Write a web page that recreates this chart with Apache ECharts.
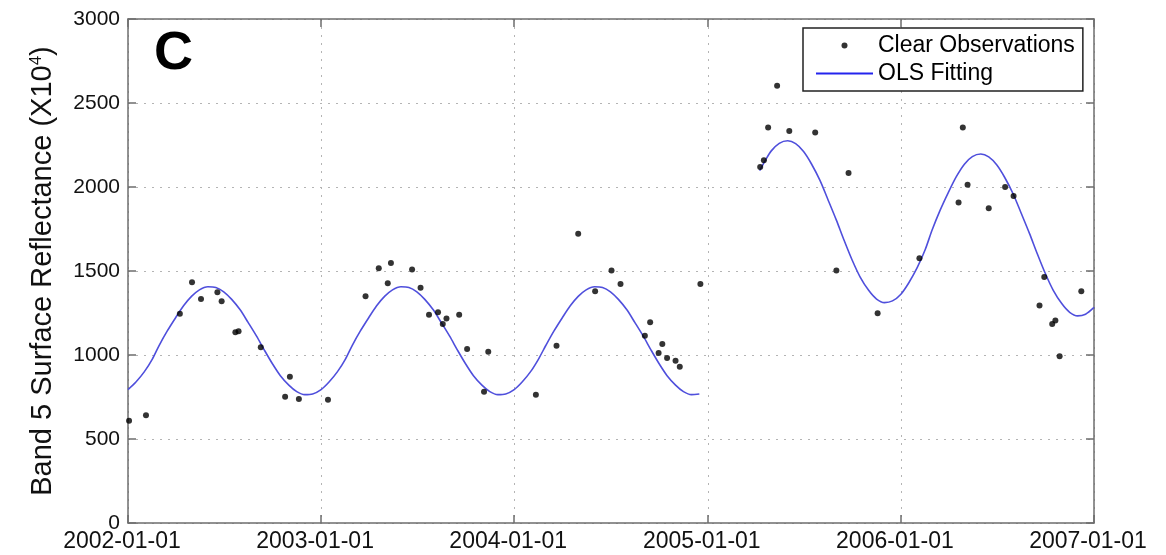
<!DOCTYPE html>
<html>
<head>
<meta charset="utf-8">
<script src="https://cdn.jsdelivr.net/npm/echarts@6/dist/echarts.min.js"></script>
<style>html,body{margin:0;padding:0;background:#fff}#c{width:1166px;height:555px}</style>
</head>
<body>
<div id="c"></div>
<script>
// ---- data ----
var xTickLabels = ['2002-01-01','2003-01-01','2004-01-01','2005-01-01','2006-01-01','2007-01-01'];
var yTicks = [0, 500, 1000, 1500, 2000, 2500, 3000];

var obsDates = [
  '2002-01-03','2002-02-04','2002-04-09','2002-05-02','2002-05-19','2002-06-19','2002-06-27','2002-07-23','2002-07-29','2002-09-09',
  '2002-10-25','2002-11-03','2002-11-20','2003-01-14','2003-03-26','2003-04-20','2003-05-07','2003-05-13','2003-06-22','2003-07-08',
  '2003-07-24','2003-08-10','2003-08-19','2003-08-26','2003-09-19','2003-10-04','2003-11-05','2003-11-13','2004-02-11','2004-03-21',
  '2004-05-01','2004-06-02','2004-07-03','2004-07-20','2004-09-04','2004-09-14','2004-09-30','2004-10-07','2004-10-16','2004-11-01',
  '2004-11-09','2004-12-18','2005-04-10','2005-04-17','2005-04-25','2005-05-12','2005-06-04','2005-07-23','2005-09-01','2005-09-24',
  '2005-11-18','2006-02-05','2006-04-20','2006-04-28','2006-05-07','2006-06-16','2006-07-17','2006-08-02','2006-09-20','2006-09-29',
  '2006-10-14','2006-10-20','2006-10-28','2006-12-08'
];
var obsValues = [
  608, 642, 1245, 1433, 1334, 1374, 1320, 1135, 1141, 1046,
  751, 871, 738, 734, 1350, 1517, 1427, 1547, 1509, 1400,
  1240, 1254, 1185, 1218, 1239, 1036, 781, 1020, 763, 1055,
  1722, 1379, 1503, 1423, 1115, 1195, 1012, 1066, 982, 966,
  930, 1423, 2119, 2159, 2354, 2602, 2334, 2324, 1503, 2083,
  1248, 1576, 1907, 2354, 2014, 1874, 2000, 1946, 1294, 1465,
  1185, 1205, 992, 1379
];

var fitDates = [
  '2002-01-01','2002-01-16','2002-02-01','2002-02-16','2002-03-01','2002-03-16','2002-04-01','2002-04-16','2002-05-01','2002-05-16','2002-06-01','2002-06-16',
  '2002-07-01','2002-07-16','2002-08-01','2002-08-16','2002-09-01','2002-09-16','2002-10-01','2002-10-16','2002-11-01','2002-11-16','2002-12-01','2002-12-16',
  '2003-01-01','2003-01-16','2003-02-01','2003-02-16','2003-03-01','2003-03-16','2003-04-01','2003-04-16','2003-05-01','2003-05-16','2003-06-01','2003-06-16',
  '2003-07-01','2003-07-16','2003-08-01','2003-08-16','2003-09-01','2003-09-16','2003-10-01','2003-10-16','2003-11-01','2003-11-16','2003-12-01','2003-12-16',
  '2004-01-01','2004-01-16','2004-02-01','2004-02-16','2004-03-01','2004-03-16','2004-04-01','2004-04-16','2004-05-01','2004-05-16','2004-06-01','2004-06-16',
  '2004-07-01','2004-07-16','2004-08-01','2004-08-16','2004-09-01','2004-09-16','2004-10-01','2004-10-16','2004-11-01','2004-11-16','2004-12-01','2004-12-16',
  '2005-02-01',
  '2005-04-09','2005-04-20','2005-05-01','2005-05-16','2005-06-01','2005-06-16',
  '2005-07-01','2005-07-16','2005-08-01','2005-08-16','2005-09-01','2005-09-16','2005-10-01','2005-10-16','2005-11-01','2005-11-16','2005-12-01','2005-12-16',
  '2006-01-01','2006-01-16','2006-02-01','2006-02-16','2006-03-01','2006-03-16','2006-04-01','2006-04-16','2006-05-01','2006-05-16','2006-06-01','2006-06-16',
  '2006-07-01','2006-07-16','2006-08-01','2006-08-16','2006-09-01','2006-09-16','2006-10-01','2006-10-16','2006-11-01','2006-11-16','2006-12-01','2006-12-16',
  '2007-01-01'
];
var fitValues = [
  794, 839, 901, 976, 1058, 1142, 1222, 1293, 1349, 1388, 1406, 1402,
  1376, 1331, 1269, 1194, 1112, 1028, 948, 877, 821, 782, 764, 768,
  794, 839, 901, 976, 1058, 1142, 1222, 1293, 1349, 1388, 1406, 1402,
  1376, 1331, 1269, 1194, 1112, 1028, 948, 877, 821, 782, 764, 768,
  794, 839, 901, 976, 1058, 1142, 1222, 1293, 1349, 1388, 1406, 1402,
  1376, 1331, 1269, 1194, 1112, 1028, 948, 877, 821, 782, 764, 768,
  null,
  2097, 2160, 2215, 2260, 2275, 2258,
  2211, 2137, 2039, 1926, 1803, 1680, 1564, 1464, 1385, 1333, 1312, 1322,
  1362, 1430, 1521, 1628, 1744, 1861, 1970, 2063, 2136, 2181, 2196, 2179,
  2132, 2058, 1960, 1847, 1724, 1601, 1485, 1385, 1306, 1254, 1233, 1243,
  1283
];

var panelLetter = 'C';
var yName = 'Band 5 Surface Reflectance (X10';
var ySup = '4';

// ---- chart ----
var FONT = '"Liberation Sans", Arial, Helvetica, sans-serif';
var chart = echarts.init(document.getElementById('c'), null, {renderer: 'canvas'});

var obsData = obsDates.map(function (d, i) { return [d, obsValues[i]]; });
var fitData = fitDates.map(function (d, i) { return [d, fitValues[i] === null ? '-' : fitValues[i]]; });

var frameColor = '#6e6e6e';
var gridLine = {show: true, lineStyle: {color: '#b4b4b4', width: 1, type: [2, 6]}};

chart.setOption({
  animation: false,
  backgroundColor: '#fff',
  textStyle: {fontFamily: FONT},
  title: {
    text: panelLetter, left: 154, top: 27, padding: 0,
    textStyle: {fontSize: 54, fontWeight: 'bold', color: '#000', fontFamily: FONT}
  },
  legend: {
    left: 803, top: 28, orient: 'vertical',
    padding: [6, 8, 6, 12], itemGap: 5,
    itemWidth: 57, itemHeight: 6,
    borderColor: '#222', borderWidth: 1.5, backgroundColor: '#fff',
    textStyle: {fontSize: 23, color: '#000', fontFamily: FONT, width: 200},
    data: [
      {name: 'Clear Observations', icon: 'circle', itemStyle: {color: '#000'}},
      {name: 'OLS Fitting', itemStyle: {opacity: 0}, lineStyle: {color: '#2424ee', width: 2}}
    ]
  },
  grid: {left: 128, right: 72, top: 19, bottom: 32, containLabel: false},
  xAxis: [{
    type: 'time',
    min: xTickLabels[0], max: xTickLabels[xTickLabels.length - 1],
    splitNumber: 5,
    minInterval: 365 * 86400000, maxInterval: 366 * 86400000,
    axisLine: {show: true, onZero: false, lineStyle: {color: frameColor, width: 1.5}},
    axisTick: {show: true, inside: true, length: 8, lineStyle: {color: frameColor, width: 1.5}},
    minorTick: {show: false},
    axisLabel: {
      show: true, margin: 7, fontSize: 23, color: '#111', fontFamily: FONT,
      formatter: '{yyyy}-{MM}-{dd}', showMinLabel: true, showMaxLabel: true,
      hideOverlap: false, padding: [0, 12, 0, 0]
    },
    splitLine: gridLine
  }, {
    type: 'time', position: 'top',
    min: xTickLabels[0], max: xTickLabels[xTickLabels.length - 1],
    splitNumber: 5,
    minInterval: 365 * 86400000, maxInterval: 366 * 86400000,
    axisLine: {show: true, onZero: false, lineStyle: {color: frameColor, width: 1.5}},
    axisTick: {show: true, inside: true, length: 8, lineStyle: {color: frameColor, width: 1.5}},
    axisLabel: {show: false},
    splitLine: {show: false}
  }],
  yAxis: [{
    type: 'value',
    min: yTicks[0], max: yTicks[yTicks.length - 1], interval: 500,
    name: '{a|' + yName + '}{s|' + ySup + '}{a|)}',
    nameLocation: 'middle', nameRotate: 90, nameGap: 71,
    nameTextStyle: {
      color: '#111',
      rich: {
        a: {fontSize: 29, fontFamily: FONT, color: '#111'},
        s: {fontSize: 17, fontFamily: FONT, color: '#111', verticalAlign: 'top', padding: [0, 0, 12, 0]}
      }
    },
    axisLine: {show: true, onZero: false, lineStyle: {color: frameColor, width: 1.5}},
    axisTick: {show: true, inside: true, length: 8, lineStyle: {color: frameColor, width: 1.5}},
    axisLabel: {
      show: true, margin: 8, fontSize: 21, color: '#111', fontFamily: FONT,
      formatter: function (v) { return String(v); }
    },
    splitLine: gridLine
  }, {
    type: 'value', position: 'right',
    min: yTicks[0], max: yTicks[yTicks.length - 1], interval: 500,
    axisLine: {show: true, onZero: false, lineStyle: {color: frameColor, width: 1.5}},
    axisTick: {show: true, inside: true, length: 8, lineStyle: {color: frameColor, width: 1.5}},
    axisLabel: {show: false},
    splitLine: {show: false}
  }],
  series: [{
    name: 'Clear Observations',
    type: 'scatter',
    xAxisIndex: 0, yAxisIndex: 0,
    symbol: 'circle', symbolSize: 6,
    itemStyle: {color: '#000'},
    data: obsData,
    z: 3
  }, {
    name: 'OLS Fitting',
    type: 'line',
    xAxisIndex: 0, yAxisIndex: 0,
    showSymbol: false, symbol: 'none',
    smooth: 0.3, connectNulls: false,
    lineStyle: {color: '#4f4fdc', width: 1.6},
    itemStyle: {color: '#2a2aee'},
    data: fitData,
    z: 2
  }]
});
</script>
</body>
</html>
